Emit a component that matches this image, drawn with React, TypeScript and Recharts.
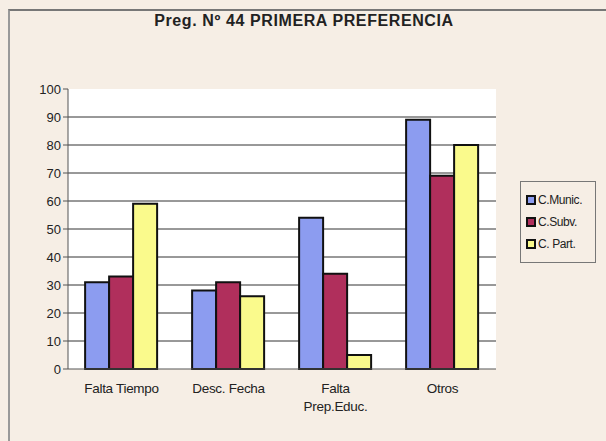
import React from 'react';
import { BarChart, Bar, XAxis, YAxis, CartesianGrid } from 'recharts';

const categories = ['Falta Tiempo', 'Desc. Fecha', 'Falta Prep.Educ.', 'Otros'];
const municValues = [31, 28, 54, 89];
const subvValues = [33, 31, 34, 69];
const partValues = [59, 26, 5, 80];
const yTicks = [0, 10, 20, 30, 40, 50, 60, 70, 80, 90, 100];
const gridValues = [10, 20, 30, 40, 50, 60, 70, 80, 90];

const series = [
  { key: 'munic', name: 'C.Munic.', color: '#8c9cf0' },
  { key: 'subv', name: 'C.Subv.', color: '#b02f5c' },
  { key: 'part', name: 'C. Part.', color: '#fafa8c' },
];

const data = categories.map((c, i) => ({
  name: c,
  munic: municValues[i],
  subv: subvValues[i],
  part: partValues[i],
}));

const FONT = 'Liberation Sans, Arial, sans-serif';

// two-line label for the long category
const CategoryTick = (props: any) => {
  const { x, y, payload } = props;
  const label: string = payload.value;
  const lines = label === 'Falta Prep.Educ.' ? ['Falta', 'Prep.Educ.'] : [label];
  return (
    <g transform={`translate(${x},${y})`}>
      {lines.map((l, i) => (
        <text key={i} x={0} y={16 + i * 18} textAnchor="middle" fill="#222" fontSize={13.5} fontFamily={FONT} letterSpacing={-0.3}>
          {l}
        </text>
      ))}
    </g>
  );
};

const LegendBox = () => (
  <div
    style={{
      position: 'absolute',
      left: 520,
      top: 181,
      width: 64,
      border: '1px solid #777',
      padding: '7px 5px',
      fontFamily: FONT,
      fontSize: 12,
      letterSpacing: -0.4,
      color: '#222',
    }}
  >
    {series.map(s => (
      <div key={s.key} style={{ display: 'flex', alignItems: 'center', height: 22 }}>
        <span
          style={{
            display: 'inline-block',
            width: 6,
            height: 6,
            background: s.color,
            border: '2px solid #111',
            marginRight: 2,
          }}
        />
        <span>{s.name}</span>
      </div>
    ))}
  </div>
);

export default function App() {
  return (
    <div
      style={{
        position: 'absolute',
        left: 0,
        top: 0,
        width: 606,
        height: 441,
        background: '#f6eee5',
        overflow: 'hidden',
      }}
    >
      <div
        style={{
          position: 'absolute',
          left: 8,
          top: 9,
          width: 598,
          height: 432,
          borderTop: '2px solid #777',
          borderLeft: '2px solid #999',
        }}
      />
      <div
        style={{
          position: 'absolute',
          left: 0,
          top: 12,
          width: 608,
          textAlign: 'center',
          fontFamily: FONT,
          fontSize: 16,
          fontWeight: 'bold',
          color: '#222',
          letterSpacing: 0.6,
        }}
      >
        Preg. Nº 44 PRIMERA PREFERENCIA
      </div>
      <BarChart
        width={606}
        height={441}
        data={data}
        margin={{ top: 89, right: 110, bottom: 42, left: 28 }}
        barCategoryGap="16%"
        barGap={0}
        style={{ position: 'absolute', left: 0, top: 0 }}
      >
        <CartesianGrid
          vertical={false}
          fill="#ffffff"
          stroke="#333"
          strokeWidth={1}
          horizontalValues={gridValues}
        />
        <XAxis
          dataKey="name"
          height={30}
          stroke="#555"
          tickLine={false}
          tick={<CategoryTick />}
          interval={0}
        />
        <YAxis
          domain={[0, 100]}
          ticks={yTicks}
          width={40}
          stroke="#555"
          tickSize={5}
          tick={{ fill: '#222', fontSize: 13, fontFamily: FONT }}
        />
        {series.map(s => (
          <Bar
            key={s.key}
            dataKey={s.key}
            name={s.name}
            fill={s.color}
            stroke="#111"
            strokeWidth={2}
            isAnimationActive={false}
          />
        ))}
      </BarChart>
      <LegendBox />
    </div>
  );
}
